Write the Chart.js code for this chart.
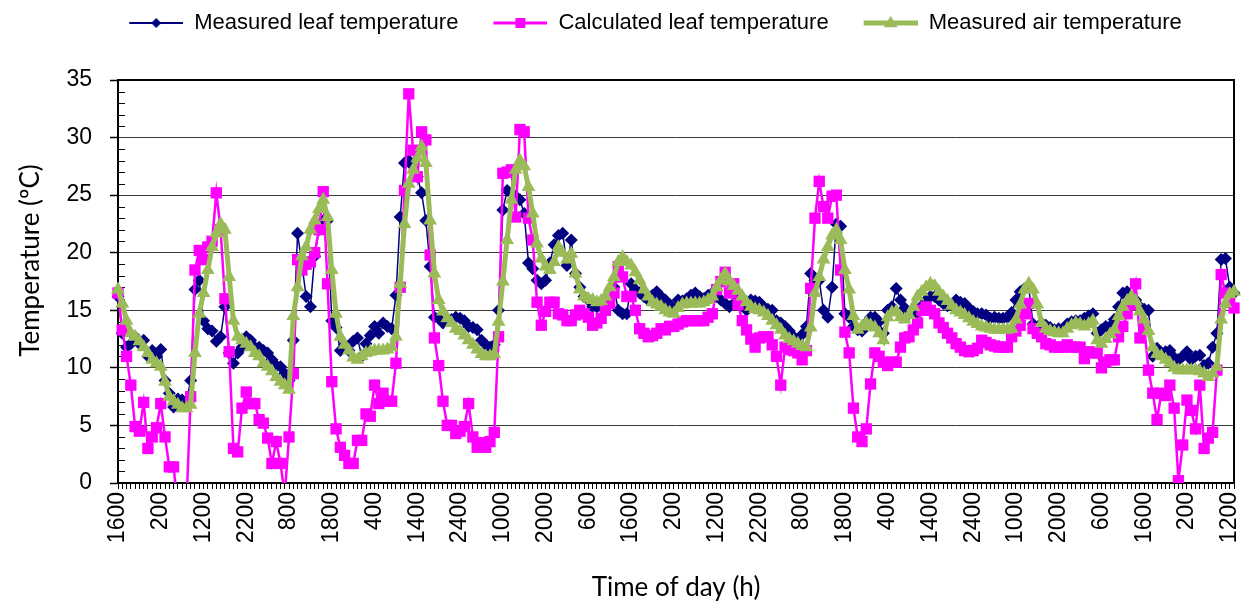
<!DOCTYPE html>
<html>
<head>
<meta charset="utf-8">
<script src="https://cdn.jsdelivr.net/npm/chart.js@4.4.1/dist/chart.umd.min.js"></script>
<style>
  html, body { margin: 0; padding: 0; background: #fff; }
  #wrap { width: 1242px; height: 603px; }
</style>
</head>
<body>
<div id="wrap"><canvas id="tempChart"></canvas></div>
<script>
// hourly readings, first one at 1600
const startHour = 16;
const hourCount = 262;
const labelEvery = 10;
const yTicks = { min: 0, max: 35, step: 5 };

const measuredLeaf = [
  16.2, 13.0, 11.8, 12.1, 12.7, 12.1, 12.4, 11.0, 11.5, 11.0,
  11.6, 8.9, 7.8, 6.6, 7.3, 7.2, 7.1, 8.9, 16.8, 17.6,
  14.1, 13.4, 13.2, 12.3, 12.7, 15.3, 11.3, 10.4, 11.3, 11.8,
  12.7, 12.4, 11.8, 11.8, 11.5, 11.3, 10.7, 10.2, 10.1, 9.5,
  8.9, 12.4, 21.7, 19.0, 16.2, 15.3, 19.7, 22.0, 22.8, 22.8,
  14.1, 13.5, 11.5, 12.0, 11.5, 12.3, 12.6, 11.0, 12.1, 12.8,
  13.6, 13.0, 13.9, 13.6, 13.4, 16.3, 23.1, 27.8, 28.0, 27.5,
  26.6, 25.2, 22.8, 18.8, 14.4, 14.3, 13.9, 14.1, 14.2, 14.4,
  14.3, 14.1, 13.6, 13.5, 13.3, 12.4, 12.0, 11.8, 12.0, 15.0,
  23.7, 25.4, 25.2, 24.9, 24.6, 23.4, 19.1, 18.6, 17.6, 17.3,
  17.6, 19.1, 20.7, 21.5, 21.7, 18.9, 21.1, 18.2, 17.0, 16.2,
  15.9, 15.3, 15.3, 15.3, 15.9, 16.5, 17.0, 15.0, 14.7, 14.7,
  17.3, 16.8, 16.5, 16.2, 15.9, 16.3, 16.6, 16.2, 15.9, 15.5,
  15.0, 15.9, 15.8, 16.0, 16.3, 16.5, 16.2, 16.0, 16.3, 16.5,
  16.2, 15.9, 15.6, 15.3, 15.6, 16.5, 15.5, 15.0, 15.9, 15.8,
  15.7, 15.3, 15.1, 15.0, 14.1, 13.9, 13.6, 13.2, 12.7, 12.3,
  12.9, 13.6, 18.2, 17.6, 17.6, 15.0, 14.4, 17.0, 22.5, 22.3,
  14.7, 14.4, 13.6, 13.3, 13.2, 13.9, 14.4, 14.4, 14.0, 13.0,
  15.0, 15.3, 16.9, 15.9, 15.2, 14.7, 15.0, 14.7, 15.4, 15.9,
  16.2, 16.2, 15.9, 15.6, 15.4, 15.5, 15.9, 15.7, 15.6, 15.2,
  14.9, 14.7, 14.7, 14.6, 14.3, 14.4, 14.3, 14.3, 14.4, 14.8,
  15.9, 16.6, 16.9, 17.0, 13.8, 13.4, 13.9, 13.7, 13.5, 13.3,
  13.4, 13.4, 13.8, 14.0, 14.1, 14.1, 14.3, 14.5, 14.7, 13.0,
  13.3, 13.6, 13.6, 14.2, 15.3, 16.5, 16.6, 16.2, 15.9, 15.3,
  15.1, 15.0, 11.0, 11.7, 11.3, 11.4, 11.5, 10.9, 10.7, 11.0,
  11.4, 10.7, 11.0, 11.1, 10.2, 10.4, 11.8, 13.0, 19.4, 19.5,
  17.0, 16.5
];

const calculatedLeaf = [
  16.5, 13.3, 11.0, 8.5, 4.9, 4.5, 7.0, 3.0, 4.0, 4.8,
  6.9, 4.0, 1.4, 1.4, -2.0, -3.0, -2.0, 7.5, 18.5, 20.2,
  19.4, 20.5, 21.0, 25.2, 22.0, 16.0, 11.4, 3.0, 2.7, 6.5,
  7.9, 6.9, 6.9, 5.5, 5.2, 3.9, 1.7, 3.6, 1.7, -1.0,
  4.0, 9.5, 19.4, 18.5, 19.0, 19.2, 20.0, 22.0, 25.3, 17.3,
  8.8, 4.7, 3.1, 2.4, 1.7, 1.7, 3.7, 3.7, 6.0, 5.8,
  8.5, 6.9, 7.8, 7.1, 7.1, 10.4, 17.0, 25.4, 33.8, 28.9,
  26.6, 30.5, 29.8, 19.8, 12.6, 10.2, 7.1, 5.0, 5.0, 4.3,
  4.5, 4.9, 6.9, 4.0, 3.1, 3.5, 3.1, 3.6, 4.4, 12.7,
  26.9, 27.0, 27.2, 23.1, 30.7, 30.5, 23.0, 21.1, 15.7, 13.7,
  14.9, 15.7, 15.7, 14.7, 14.6, 14.1, 14.1, 14.6, 15.0, 14.7,
  14.4, 13.7, 13.9, 14.3, 15.0, 15.6, 16.5, 18.8, 17.9, 16.2,
  16.2, 15.0, 13.4, 13.0, 12.7, 12.8, 13.0, 13.4, 13.3, 13.6,
  13.6, 13.8, 14.0, 14.1, 14.1, 14.1, 14.1, 14.1, 14.4, 14.7,
  16.8, 17.5, 18.3, 16.5, 17.3, 15.5, 14.1, 13.3, 12.5, 11.8,
  12.6, 12.7, 12.7, 12.0, 11.0, 8.5, 11.8, 11.6, 11.5, 11.3,
  10.7, 11.5, 16.9, 23.0, 26.2, 24.0, 23.0, 24.9, 25.0, 18.5,
  13.1, 11.3, 6.5, 4.0, 3.6, 4.7, 8.6, 11.3, 11.0, 10.5,
  10.2, 10.5, 10.5, 11.8, 12.6, 12.7, 13.3, 13.9, 15.0, 15.3,
  15.0, 14.7, 13.9, 13.5, 13.0, 12.6, 12.1, 11.8, 11.5, 11.4,
  11.5, 11.7, 12.4, 12.2, 12.0, 11.9, 11.8, 11.8, 11.8, 12.7,
  13.2, 13.7, 14.7, 15.6, 13.4, 13.0, 12.7, 12.1, 12.0, 11.8,
  11.8, 11.8, 12.0, 11.8, 11.8, 11.8, 10.8, 11.4, 11.3, 11.3,
  10.0, 10.5, 10.7, 10.7, 12.7, 13.6, 14.7, 15.5, 17.3, 12.6,
  13.6, 9.8, 7.8, 5.5, 7.8, 7.6, 8.5, 6.5, 0.2, 3.3,
  7.2, 6.3, 4.7, 8.5, 3.0, 3.9, 4.4, 9.8, 18.1, 16.5,
  15.7, 15.2
];

const measuredAir = [
  16.8, 15.6, 14.1, 13.0, 12.7, 12.3, 11.8, 11.3, 10.7, 10.4,
  10.1, 8.8, 7.5, 7.1, 6.8, 6.5, 6.5, 6.8, 11.3, 14.7,
  16.5, 18.5, 20.5, 21.7, 22.5, 22.0, 17.9, 14.1, 12.7, 12.4,
  12.1, 11.8, 11.3, 11.0, 10.4, 10.1, 9.7, 9.2, 8.8, 8.5,
  8.1, 14.5, 17.0, 19.7, 20.5, 22.0, 22.8, 23.8, 24.6, 23.1,
  18.5, 14.7, 12.7, 12.0, 11.5, 10.9, 10.7, 11.0, 11.3, 11.4,
  11.5, 11.5, 11.5, 11.6, 11.8, 12.7, 17.3, 22.5, 26.0, 27.2,
  28.2, 29.2, 27.8, 22.8, 18.2, 15.9, 14.9, 14.3, 13.9, 13.4,
  13.2, 12.8, 12.4, 12.0, 11.6, 11.2, 11.0, 11.0, 11.2, 14.0,
  17.5, 21.1, 24.6, 27.2, 28.0, 27.5, 25.7, 23.4, 20.8, 19.5,
  18.8, 18.5, 19.2, 20.5, 20.0, 19.4, 19.9, 18.2, 16.8, 16.2,
  16.0, 15.9, 15.7, 15.8, 16.2, 17.0, 17.9, 19.2, 19.6, 19.2,
  18.9, 18.3, 17.6, 16.8, 16.2, 15.7, 15.5, 15.3, 15.0, 14.8,
  14.7, 15.2, 15.5, 15.6, 15.6, 15.6, 15.6, 15.7, 15.9, 16.2,
  17.0, 17.6, 18.2, 17.5, 17.1, 16.7, 16.2, 15.7, 15.3, 15.1,
  15.0, 14.8, 14.5, 14.1, 13.7, 13.3, 12.8, 12.5, 12.3, 12.1,
  11.9, 11.8, 13.5, 16.5, 17.9, 19.4, 20.5, 21.5, 22.0, 21.1,
  18.5, 16.8, 14.5, 13.3, 13.6, 13.9, 13.7, 13.5, 13.0, 12.4,
  14.4, 14.8, 14.9, 14.4, 14.2, 14.6, 15.3, 16.2, 16.6, 17.0,
  17.3, 17.1, 16.6, 16.2, 15.8, 15.4, 15.0, 14.8, 14.6, 14.3,
  14.0, 13.8, 13.6, 13.5, 13.4, 13.3, 13.3, 13.3, 13.3, 13.4,
  14.2, 15.5, 16.8, 17.3, 16.8, 15.5, 13.9, 13.4, 13.2, 13.1,
  13.0, 13.0, 13.4, 13.7, 13.9, 13.8, 13.6, 13.8, 14.1, 12.4,
  12.1, 12.5, 12.9, 13.3, 14.5, 15.3, 15.8, 16.2, 15.8, 14.9,
  14.2, 13.2, 11.8, 11.2, 11.0, 10.7, 10.4, 10.0, 9.8, 9.8,
  9.8, 9.8, 9.8, 9.7, 9.5, 9.2, 9.5, 10.1, 14.2, 15.6,
  16.4, 16.6
];

const hours = [];
for (let i = 0; i < hourCount; i++) {
  hours.push(String(((startHour + i - 1) % 24 + 1) * 100));
}

const tickFont = { family: 'Liberation Sans, Arial, sans-serif', size: 23 };
const titleFont = { family: 'Lato, sans-serif', size: 26 };
const yTitleText = 'Temperature (ºC)';

// legend sample: short line with the marker in the middle
function legendIcon(color, lineWidth, shape, size) {
  const pad = 23, len = 54;
  const c = document.createElement('canvas');
  c.width = pad + len;
  c.height = 22;
  const g = c.getContext('2d');
  const cx = pad + len / 2, cy = 11;
  g.strokeStyle = color;
  g.fillStyle = color;
  g.lineWidth = lineWidth;
  g.beginPath();
  g.moveTo(pad, cy);
  g.lineTo(pad + len, cy);
  g.stroke();
  g.beginPath();
  if (shape === 'diamond') {
    g.moveTo(cx, cy - size); g.lineTo(cx + size, cy); g.lineTo(cx, cy + size); g.lineTo(cx - size, cy);
  } else if (shape === 'square') {
    g.rect(cx - size, cy - size, size * 2, size * 2);
  } else {
    g.moveTo(cx, cy - size); g.lineTo(cx + size, cy + size * 0.6); g.lineTo(cx - size, cy + size * 0.6);
  }
  g.closePath();
  g.fill();
  return c;
}

const legendIcons = [
  legendIcon('#000080', 2, 'diamond', 5),
  legendIcon('#FF00FF', 3, 'square', 5),
  legendIcon('#9BBB59', 5, 'triangle', 7)
];

const frameAndMinorTicks = {
  id: 'frameAndMinorTicks',
  beforeDatasetsDraw(chart) {
    const { ctx, chartArea: a, scales: { y } } = chart;
    ctx.save();
    ctx.strokeStyle = '#000';
    ctx.lineWidth = 1;
    for (let v = yTicks.min; v <= yTicks.max; v++) {
      if (v % yTicks.step === 0) continue;
      const py = Math.round(y.getPixelForValue(v)) + 0.5;
      ctx.beginPath();
      ctx.moveTo(a.left, py);
      ctx.lineTo(a.left + 7, py);
      ctx.stroke();
    }
    ctx.lineWidth = 2;
    ctx.beginPath();
    ctx.moveTo(a.left, a.top);
    ctx.lineTo(a.right, a.top);
    ctx.lineTo(a.right, a.bottom);
    ctx.stroke();
    ctx.restore();
  }
};

// y title sits a little above the middle of the plot, as in the source figure
const yAxisTitle = {
  id: 'yAxisTitle',
  afterDraw(chart) {
    const { ctx, chartArea: a } = chart;
    ctx.save();
    ctx.translate(31, (a.top + a.bottom) / 2 - 21);
    ctx.rotate(-Math.PI / 2);
    ctx.font = titleFont.size + 'px ' + titleFont.family;
    ctx.fillStyle = '#000';
    ctx.textAlign = 'center';
    ctx.textBaseline = 'middle';
    ctx.fillText(yTitleText, 0, 0);
    ctx.restore();
  }
};

const legendShift = {
  id: 'legendShift',
  afterLayout(chart) {
    chart.legend.left += 26;
    chart.legend.right += 26;
  }
};

const ctx = document.getElementById('tempChart').getContext('2d');
new Chart(ctx, {
  type: 'line',
  data: {
    labels: hours,
    datasets: [
      {
        label: 'Measured leaf temperature',
        data: measuredLeaf,
        borderColor: '#000080',
        backgroundColor: '#000080',
        borderWidth: 1.5,
        pointStyle: 'rectRot',
        pointRadius: 6.5,
        pointBorderWidth: 0,
        order: 3
      },
      {
        label: 'Calculated leaf temperature',
        data: calculatedLeaf,
        borderColor: '#FF00FF',
        backgroundColor: '#FF00FF',
        borderWidth: 2.5,
        pointStyle: 'rect',
        pointRadius: 8,
        pointBorderWidth: 0,
        order: 2
      },
      {
        label: 'Measured air temperature',
        data: measuredAir,
        borderColor: '#9BBB59',
        backgroundColor: '#9BBB59',
        borderWidth: 5,
        pointStyle: 'triangle',
        pointRadius: 8,
        pointBorderWidth: 0,
        order: 1
      }
    ]
  },
  options: {
    responsive: true,
    maintainAspectRatio: false,
    animation: false,
    events: [],
    layout: { padding: { left: 0, right: 6, top: 0, bottom: 0 } },
    scales: {
      x: {
        type: 'category',
        offset: false,
        grid: { drawOnChartArea: false, drawTicks: true, tickLength: 6, color: '#000', lineWidth: 1 },
        border: { color: '#000', width: 2 },
        ticks: {
          autoSkip: false,
          minRotation: 90,
          maxRotation: 90,
          padding: 3,
          color: '#000',
          font: tickFont,
          callback: function(value, index) {
            return index % labelEvery === 0 ? this.getLabelForValue(value) : '';
          }
        },
        title: { display: true, text: 'Time of day (h)', color: '#000', font: titleFont, padding: { top: 0, bottom: 0 } },
        afterFit: (scale) => {
          scale.height = 120;
          scale.paddingLeft = 0;
          scale.paddingRight = 0;
        }
      },
      x2: {
        type: 'category',
        position: 'top',
        ticks: { display: false },
        grid: { display: false, drawTicks: false },
        border: { display: false },
        afterFit: (scale) => { scale.height = 36; }
      },
      y: {
        min: yTicks.min,
        max: yTicks.max,
        ticks: { stepSize: yTicks.step, color: '#000', font: tickFont, padding: 18 },
        grid: { color: '#3a3a3a', lineWidth: 1, tickLength: 8, tickColor: '#000', tickWidth: 1.5 },
        border: { color: '#000', width: 2 },
        title: { display: false },
        afterFit: (scale) => {
          scale.width = 118;
          scale.paddingTop = 0;
          scale.paddingBottom = 0;
        }
      }
    },
    plugins: {
      tooltip: { enabled: false },
      legend: {
        position: 'top',
        labels: {
          usePointStyle: true,
          pointStyleWidth: 77,
          padding: 12,
          color: '#000',
          font: { family: 'Liberation Sans, Arial, sans-serif', size: 22 },
          sort: (a, b) => a.datasetIndex - b.datasetIndex,
          generateLabels: (chart) => Chart.defaults.plugins.legend.labels.generateLabels(chart)
            .map(item => Object.assign(item, { pointStyle: legendIcons[item.datasetIndex] }))
        }
      }
    }
  },
  plugins: [frameAndMinorTicks, yAxisTitle, legendShift]
});
</script>
</body>
</html>
